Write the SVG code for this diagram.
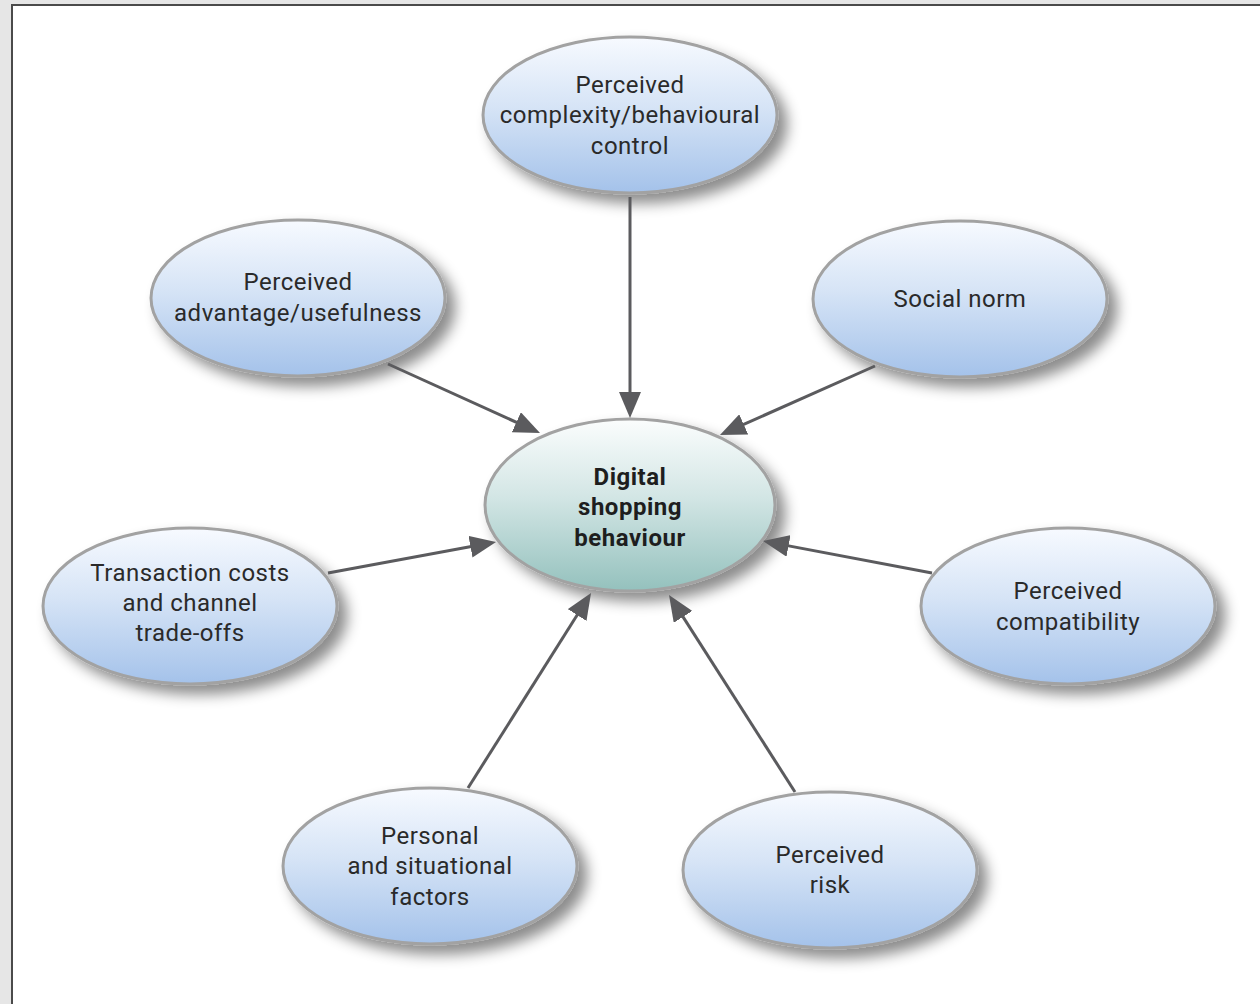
<svg xmlns="http://www.w3.org/2000/svg" width="1260" height="1004" viewBox="0 0 1260 1004">
  <defs>
    <linearGradient id="gBlue" x1="0" y1="0" x2="0" y2="1">
      <stop offset="0" stop-color="#f7faff"/>
      <stop offset="0.45" stop-color="#d6e4f6"/>
      <stop offset="1" stop-color="#a4c2ea"/>
    </linearGradient>
    <linearGradient id="gTeal" x1="0" y1="0" x2="0" y2="1">
      <stop offset="0" stop-color="#fbfdfd"/>
      <stop offset="0.45" stop-color="#d3e6e5"/>
      <stop offset="1" stop-color="#94c1bd"/>
    </linearGradient>
    <filter id="shadow" x="-20%" y="-20%" width="150%" height="170%">
      <feDropShadow dx="9" dy="9" stdDeviation="7" flood-color="#000" flood-opacity="0.45"/>
    </filter>
    <marker id="arrow" viewBox="0 0 26 22" refX="16" refY="11" markerWidth="26" markerHeight="22" markerUnits="userSpaceOnUse" orient="auto">
      <path d="M0,0 L26,11 L0,22 Z" fill="#5b5b5e"/>
    </marker>
  </defs>
  <style>
    .node ellipse { fill: url(#gBlue); stroke: #a2a2a2; stroke-width: 3; filter: url(#shadow); }
    #n-center ellipse { fill: url(#gTeal); }
    .node text { font-family: Roboto, "Liberation Sans", sans-serif; font-size: 24px; fill: #2a2a2a; text-anchor: middle; letter-spacing: 0.5px; }
    #n-center text { font-weight: bold; fill: #1e1e1e; }
    .edge { stroke: #5b5b5e; stroke-width: 3; fill: none; marker-end: url(#arrow); }
  </style>

  <!-- page frame -->
  <rect x="0" y="0" width="1260" height="1004" fill="#e6e6e6"/>
  <rect x="12" y="5" width="1260" height="1010" fill="#ffffff" stroke="#4a4a4a" stroke-width="2"/>

  <g id="nodes">
    <g id="n-complexity" class="node">
      <ellipse cx="630" cy="115" rx="147" ry="78"/>
      <text x="630" y="93">Perceived</text>
      <text x="630" y="123">complexity/behavioural</text>
      <text x="630" y="154">control</text>
    </g>
    <g id="n-advantage" class="node">
      <ellipse cx="298" cy="298" rx="147" ry="78"/>
      <text x="298" y="290">Perceived</text>
      <text x="298" y="321">advantage/usefulness</text>
    </g>
    <g id="n-social" class="node">
      <ellipse cx="960" cy="299" rx="147" ry="78"/>
      <text x="960" y="307">Social norm</text>
    </g>
    <g id="n-transaction" class="node">
      <ellipse cx="190" cy="606" rx="147" ry="78"/>
      <text x="190" y="581">Transaction costs</text>
      <text x="190" y="611">and channel</text>
      <text x="190" y="641">trade-offs</text>
    </g>
    <g id="n-compatibility" class="node">
      <ellipse cx="1068" cy="606" rx="147" ry="78"/>
      <text x="1068" y="599">Perceived</text>
      <text x="1068" y="630">compatibility</text>
    </g>
    <g id="n-personal" class="node">
      <ellipse cx="430" cy="866" rx="147" ry="78"/>
      <text x="430" y="844">Personal</text>
      <text x="430" y="874">and situational</text>
      <text x="430" y="905">factors</text>
    </g>
    <g id="n-risk" class="node">
      <ellipse cx="830" cy="870" rx="147" ry="78"/>
      <text x="830" y="863">Perceived</text>
      <text x="830" y="893">risk</text>
    </g>
    <g id="n-center" class="node">
      <ellipse cx="630" cy="505" rx="145" ry="86"/>
      <text x="630" y="485">Digital</text>
      <text x="630" y="515">shopping</text>
      <text x="630" y="546">behaviour</text>
    </g>
  </g>

  <g id="connectors">
    <path class="edge" d="M630,197 L630,408"/>
    <path class="edge" d="M388,364 L530.9,428.9"/>
    <path class="edge" d="M875,366 L729.1,430.9"/>
    <path class="edge" d="M328,573 L486.2,543.8"/>
    <path class="edge" d="M932,573 L772.8,542.9"/>
    <path class="edge" d="M468,788 L585.7,601.5"/>
    <path class="edge" d="M795,792 L674.4,603.4"/>
  </g>
</svg>
